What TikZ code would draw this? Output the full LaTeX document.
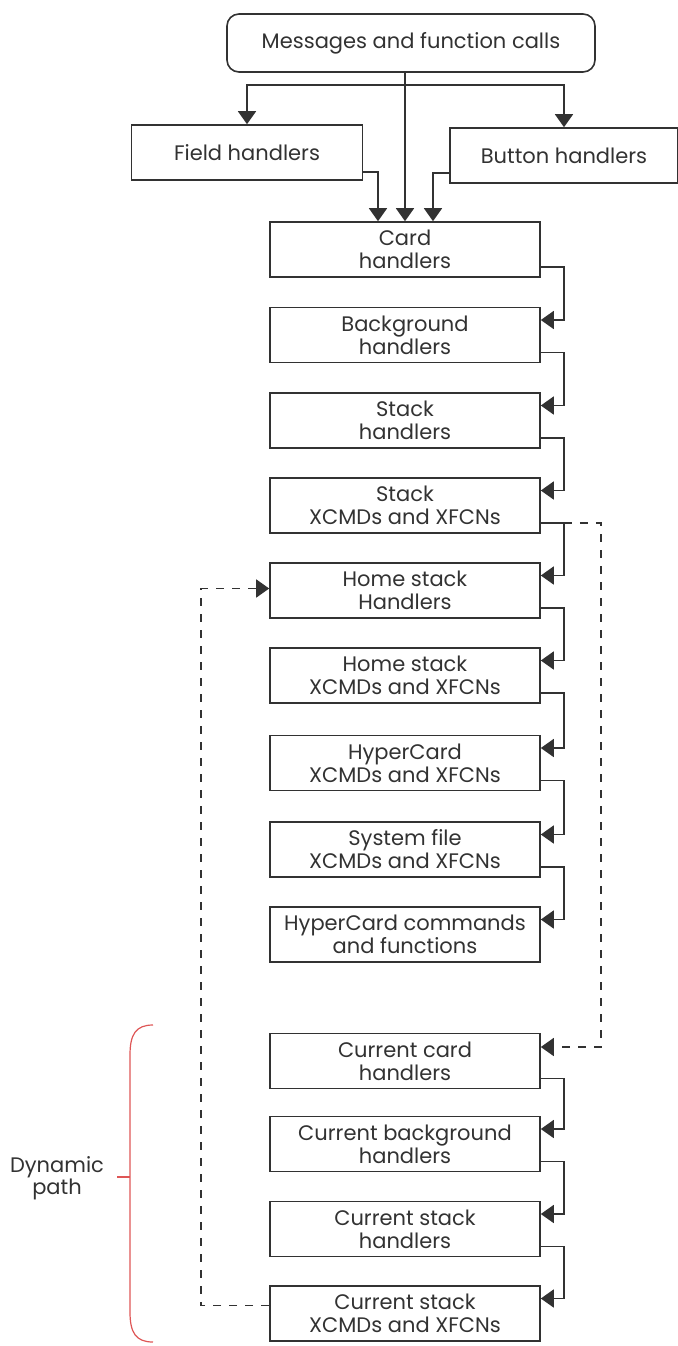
\documentclass[tikz,border=0pt]{standalone}
\usepackage{fontspec}
\setmainfont{Poppins}
\usetikzlibrary{arrows.meta,positioning,calc}
\definecolor{ink}{RGB}{50,50,50}
\definecolor{markred}{RGB}{222,86,86}
\tikzset{every picture/.style={line width=0.8pt}}

\begin{document}
\begin{tikzpicture}[x=0.5pt,y=-0.5pt,
    handler/.style={draw=ink, text=ink, minimum width=135pt, minimum height=27.5pt,
        inner sep=0pt, align=center, font=\fontsize{10.5}{11.5}\selectfont},
    flow/.style={draw=ink, -{Triangle[width=9pt,length=6.5pt]}},
    dynflow/.style={flow, dash pattern=on 4pt off 4pt},
    bracket/.style={draw=markred, line width=0.6pt}]
    \useasboundingbox (0,0) rectangle (678,1346);

    % message source and the two object handlers
    \node[handler, rounded corners=6pt, minimum width=184pt, minimum height=29pt] (msg) at (411,43) {Messages and function calls};
    \node[handler, minimum width=115.5pt] (field) at (247,152.5) {Field handlers};
    \node[handler, minimum width=114pt] (button) at (564,155.5) {Button handlers};

    % static path
    \node[handler] (card)     at (405,249.5) {Card\\handlers};
    \node[handler] (bg)       at (405,335)   {Background\\handlers};
    \node[handler] (stack)    at (405,420.5) {Stack\\handlers};
    \node[handler] (stackx)   at (405,505.5) {Stack\\XCMDs and XFCNs};
    \node[handler] (home)     at (405,590.5) {Home stack\\Handlers};
    \node[handler] (homex)    at (405,675.5) {Home stack\\XCMDs and XFCNs};
    \node[handler] (hcx)      at (405,763)   {HyperCard\\XCMDs and XFCNs};
    \node[handler] (sysx)     at (405,849.5) {System file\\XCMDs and XFCNs};
    \node[handler] (hccmd)    at (405,934.5) {HyperCard commands\\and functions};

    % dynamic path
    \node[handler] (curcard)  at (405,1061)   {Current card\\handlers};
    \node[handler] (curbg)    at (405,1144)   {Current background\\handlers};
    \node[handler] (curstack) at (405,1229)   {Current stack\\handlers};
    \node[handler] (curx)     at (405,1313.5) {Current stack\\XCMDs and XFCNs};

    % messages enter the hierarchy
    \coordinate (fork) at (msg.south |- 0,85);
    \draw[flow] (msg.south -| card) -- (card.north);
    \draw[flow] (fork) -| (field.north);
    \draw[flow] (fork) -| (button.north);
    \draw[flow] ([yshift=-9.75pt]field.east) -| ([xshift=-13.5pt]card.north);
    \draw[flow] ([yshift=-8.75pt]button.west) -| ([xshift=14pt]card.north);

    % pass on down the chain
    \foreach \a/\b in {card/bg, bg/stack, stack/stackx, stackx/home, home/homex,
        homex/hcx, hcx/sysx, sysx/hccmd, curcard/curbg, curbg/curstack, curstack/curx}
        \draw[flow] ([yshift=-8.75pt]\a.east) -- ++(11.5pt,0) |- ([yshift=7.5pt]\b.east);

    % jumps into and out of the dynamic path
    \draw[dynflow] ([xshift=11.5pt,yshift=-8.75pt]stackx.east) -- ++(18.5pt,0) |- ([yshift=7pt]curcard.east);
    \draw[dynflow] ([yshift=4pt]curx.west) -- ++(-34pt,0) |- ([yshift=1pt]home.west);

    % dynamic path bracket
    \node[text=ink, align=center, font=\fontsize{10.5}{11}\selectfont] (dyn) at (57,1178) {Dynamic\\path};
    \coordinate (bracemid) at (130,1177);
    \draw[bracket] (153,1025) .. controls (136,1025) and (130,1034) .. (130,1055)
        -- (130,1312) .. controls (130,1333) and (136,1342) .. (153,1342);
    \draw[bracket, shorten <=3pt] (dyn.east |- bracemid) -- (bracemid);
\end{tikzpicture}
\end{document}
